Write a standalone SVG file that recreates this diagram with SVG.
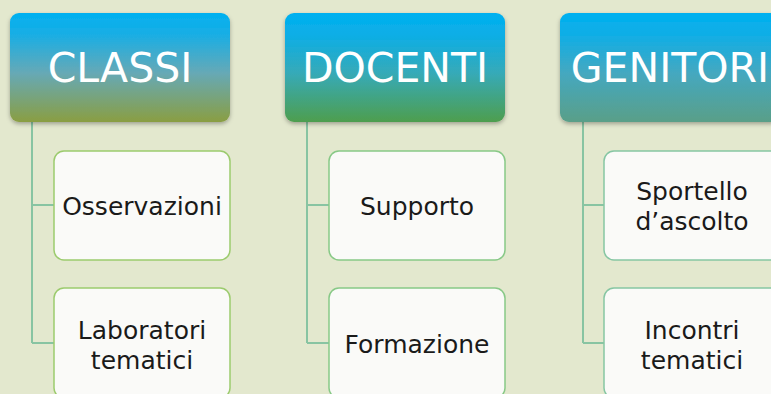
<svg xmlns="http://www.w3.org/2000/svg" width="771" height="394" viewBox="0 0 771 394">
<style>
.title{font-family:"DejaVu Sans","Liberation Sans",sans-serif;font-size:41px;fill:#ffffff;text-anchor:middle}
.lbl{font-family:"DejaVu Sans","Liberation Sans",sans-serif;font-size:25px;fill:#1a1a1a;text-anchor:middle}
.conn{stroke:#88C4A2;stroke-width:2;fill:none}
.child{fill:#FAFAF8;stroke-width:1.5}
</style>
<defs>
<linearGradient id="gC" x1="0" y1="0" x2="0" y2="1">
<stop offset="0" stop-color="#00B0F0"/>
<stop offset="0.2" stop-color="#1AAEE4"/>
<stop offset="0.55" stop-color="#66A9B6"/>
<stop offset="1" stop-color="#8A9E42"/>
</linearGradient>
<linearGradient id="gD" x1="0" y1="0" x2="0" y2="1">
<stop offset="0" stop-color="#00B0F0"/>
<stop offset="0.2" stop-color="#0CAEE6"/>
<stop offset="0.55" stop-color="#36AAB8"/>
<stop offset="1" stop-color="#4E9E4E"/>
</linearGradient>
<linearGradient id="gG" x1="0" y1="0" x2="0" y2="1">
<stop offset="0" stop-color="#00B0F0"/>
<stop offset="0.2" stop-color="#10AEE6"/>
<stop offset="0.55" stop-color="#44A8C0"/>
<stop offset="1" stop-color="#5A9F88"/>
</linearGradient>
<filter id="sh" x="-10%" y="-10%" width="120%" height="130%">
<feDropShadow dx="0" dy="2" stdDeviation="2" flood-color="#000" flood-opacity="0.3"/>
</filter>
</defs>
<rect width="771" height="394" fill="#E3E8CE"/>
<g id="connectors">
<path class="conn" d="M32 122 V343 M32 205 H54 M32 343 H54"/>
<path class="conn" d="M307 122 V343 M307 205 H329 M307 343 H329"/>
<path class="conn" d="M583 122 V343 M583 205 H604 M583 343 H604"/>
</g>
<g id="classi">
<rect x="10" y="13" width="220" height="109" rx="9" fill="url(#gC)" filter="url(#sh)"/>
<text class="title" x="120" y="82">CLASSI</text>
</g>
<g id="docenti">
<rect x="285" y="13" width="220" height="109" rx="9" fill="url(#gD)" filter="url(#sh)"/>
<text class="title" x="395" y="82">DOCENTI</text>
</g>
<g id="genitori">
<rect x="560" y="13" width="220" height="109" rx="9" fill="url(#gG)" filter="url(#sh)"/>
<text class="title" x="670" y="82">GENITORI</text>
</g>
<g id="osservazioni">
<rect class="child" x="54" y="151" width="176" height="109" rx="10" stroke="#9CCB6E"/>
<text class="lbl" x="142" y="215">Osservazioni</text>
</g>
<g id="laboratori">
<rect class="child" x="54" y="288" width="176" height="110" rx="10" stroke="#9CCB6E"/>
<text class="lbl" x="142" y="339">Laboratori</text>
<text class="lbl" x="142" y="369">tematici</text>
</g>
<g id="supporto">
<rect class="child" x="329" y="151" width="176" height="109" rx="10" stroke="#88C987"/>
<text class="lbl" x="417" y="215">Supporto</text>
</g>
<g id="formazione">
<rect class="child" x="329" y="288" width="176" height="110" rx="10" stroke="#88C987"/>
<text class="lbl" x="417" y="353">Formazione</text>
</g>
<g id="sportello">
<rect class="child" x="604" y="151" width="176" height="109" rx="10" stroke="#86C6A3"/>
<text class="lbl" x="692" y="200">Sportello</text>
<text class="lbl" x="692" y="230">d’ascolto</text>
</g>
<g id="incontri">
<rect class="child" x="604" y="288" width="176" height="110" rx="10" stroke="#86C6A3"/>
<text class="lbl" x="692" y="339">Incontri</text>
<text class="lbl" x="692" y="369">tematici</text>
</g>
</svg>
